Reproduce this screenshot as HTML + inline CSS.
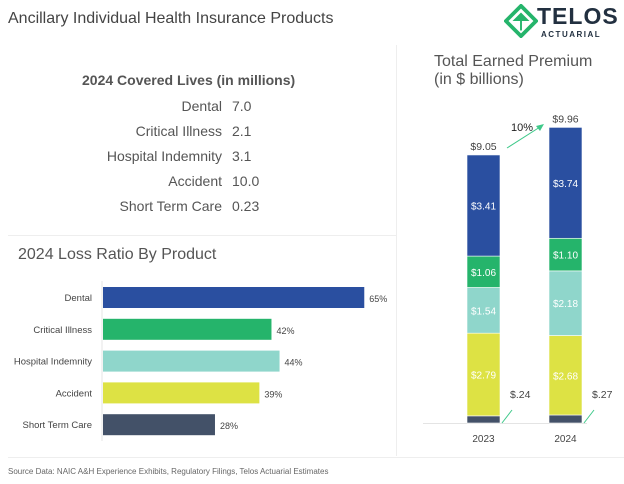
<!DOCTYPE html>
<html><head><meta charset="utf-8"><style>
body{margin:0;width:624px;height:484px;background:#fff;font-family:"Liberation Sans",sans-serif;overflow:hidden;position:relative;color:#555}
.a{position:absolute}
</style></head><body>
<div class="a" style="left:8px;top:10px;font-size:16px;color:#444">Ancillary Individual Health Insurance Products</div>
<div class="a" style="left:504px;top:2px;width:115px;height:38px">
<svg width="34" height="34" viewBox="0 0 36 36" style="position:absolute;left:0;top:2px"><polygon points="18,2 34,18 18,34 2,18" fill="none" stroke="#25b46b" stroke-width="4"/><polygon points="18,9 27,18 9,18" fill="#25b46b"/><line x1="18" y1="18" x2="18" y2="28" stroke="#25b46b" stroke-width="2"/></svg>
<div class="a" style="left:33px;top:1px;font-size:23px;font-weight:bold;color:#223040;letter-spacing:1px">TELOS</div>
<div class="a" style="left:37px;top:28px;font-size:8px;font-weight:bold;color:#223040;letter-spacing:1.5px">ACTUARIAL</div>
</div>
<div class="a" style="left:8px;top:235px;width:389px;height:1px;background:#eee"></div>
<div class="a" style="left:396px;top:45px;width:1px;height:411px;background:#eee"></div>
<div class="a" style="left:8px;top:457px;width:616px;height:1px;background:#eee"></div>

<div class="a" style="left:82px;top:72px;font-size:14px;font-weight:bold;color:#555">2024 Covered Lives (in millions)</div>
<div class="a" style="left:0;top:94px;font-size:14px;color:#555;line-height:25px">
<div style="display:flex"><span style="width:222px;text-align:right">Dental</span><span style="margin-left:10px">7.0</span></div>
<div style="display:flex"><span style="width:222px;text-align:right">Critical Illness</span><span style="margin-left:10px">2.1</span></div>
<div style="display:flex"><span style="width:222px;text-align:right">Hospital Indemnity</span><span style="margin-left:10px">3.1</span></div>
<div style="display:flex"><span style="width:222px;text-align:right">Accident</span><span style="margin-left:10px">10.0</span></div>
<div style="display:flex"><span style="width:222px;text-align:right">Short Term Care</span><span style="margin-left:10px">0.23</span></div>
</div>

<div class="a" style="left:18px;top:246px;font-size:16px;color:#555">2024 Loss Ratio By Product</div>
<svg id="hb" class="a" style="left:0;top:0" width="400" height="460"></svg>

<div class="a" style="left:434px;top:53px;font-size:16px;color:#555;line-height:18px">Total Earned Premium<br>(in $ billions)</div>
<svg id="sb" class="a" style="left:400px;top:0" width="224" height="460"></svg>

<div class="a" style="left:8px;top:467px;font-size:8px;color:#666">Source Data: NAIC A&amp;H Experience Exhibits, Regulatory Filings, Telos Actuarial Estimates</div>
<script>
const products=["Dental","Critical Illness","Hospital Indemnity","Accident","Short Term Care"];
const lossRatios=[65,42,44,39,28];
const colors=["#2a4fa0","#25b46b","#8fd6cb","#dde244","#435168"];
const years=["2023","2024"];
const stcPrem=[0.24,0.27];
const accPrem=[2.79,2.68];
const hospPrem=[1.54,2.18];
const critPrem=[1.06,1.10];
const dentPrem=[3.41,3.74];
const totals=["$9.05","$9.96"];
const NS="http://www.w3.org/2000/svg";
function mk(p,t,a){const e=document.createElementNS(NS,t);for(const k in a)e.setAttribute(k,a[k]);p.appendChild(e);return e;}
const hb=document.getElementById('hb');
const x0=102,pxPer=4.035;
const xs=v=>x0+v*pxPer;
const yb=i=>287+i*31.8;
const ax=mk(hb,'line',{x1:x0,y1:281,x2:x0,y2:441,stroke:'#e4e4e4'});


products.forEach((p,i)=>{
 const r=mk(hb,'rect',{x:x0+1,y:yb(i),width:xs(lossRatios[i])-x0-1,height:21,fill:colors[i]});
 
 
 const l=mk(hb,'text',{x:92,y:yb(i)+14,'text-anchor':'end','font-size':'9.5',fill:'#444'});l.textContent=p;
 
 
 const v=mk(hb,'text',{x:xs(lossRatios[i])+5,y:yb(i)+15,'font-size':'9',fill:'#444'});v.textContent=lossRatios[i]+'%';
 
 
});
const sb=document.getElementById('sb');
const base=423,sc=29.65,bx=[67,149],bw=33;
const bl=mk(sb,'line',{x1:23,y1:423.5,x2:187,y2:423.5,stroke:'#e4e4e4'});


const series=[stcPrem,accPrem,hospPrem,critPrem,dentPrem];
const sc2=[colors[4],colors[3],colors[2],colors[1],colors[0]];
years.forEach((yr,j)=>{
 let y=base;
 series.forEach((s,k)=>{
  const h=s[j]*sc;y-=h;
  const r=mk(sb,'rect',{x:bx[j],y:y,width:bw,height:h,fill:sc2[k],stroke:'#fff','stroke-width':0.6});
  
  
  if(k>0){const t=mk(sb,'text',{x:bx[j]+bw/2,y:y+h/2+4,'text-anchor':'middle','font-size':'10',fill:'#fff'});t.textContent='$'+s[j].toFixed(2);
   
   }
 });
 const t=mk(sb,'text',{x:bx[j]+bw/2,y:y-5,'text-anchor':'middle','font-size':'10.5',fill:'#444'});t.textContent=totals[j];
 
 
 const yl=mk(sb,'text',{x:bx[j]+bw/2,y:442,'text-anchor':'middle','font-size':'10',fill:'#444'});yl.textContent=yr;
 
 
 const ln=mk(sb,'line',{x1:bx[j]+bw+2,y1:423,x2:bx[j]+bw+12,y2:410,stroke:'#3fc98a'});
 
 
 const st=mk(sb,'text',{x:bx[j]+bw+10,y:398,'font-size':'10.5',fill:'#444'});st.textContent='$.'+Math.round(stcPrem[j]*100);
 
 
});
const ar=mk(sb,'line',{x1:107,y1:148,x2:140,y2:127,stroke:'#3fc98a','stroke-width':1});


const ah=mk(sb,'polygon',{points:'144,124 136,126 140,131',fill:'#3fc98a'});


const gp=mk(sb,'text',{x:111,y:131,'font-size':'11',fill:'#222'});gp.textContent='10%';


</script>
</body></html>
